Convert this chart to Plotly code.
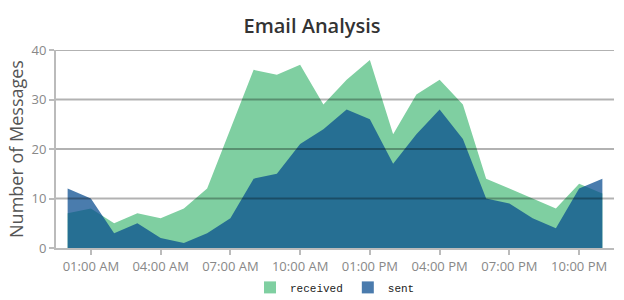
import plotly.graph_objects as go

hours = [f"2024-01-01 {h:02d}:00" for h in range(24)]
received = [7, 8, 5, 7, 6, 8, 12, 24, 36, 35, 37, 29, 34, 38, 23, 31, 34, 29, 14, 12, 10, 8, 13, 11]
sent = [12, 10, 3, 5, 2, 1, 3, 6, 14, 15, 21, 24, 28, 26, 17, 23, 28, 22, 10, 9, 6, 4, 12, 14]
series_names = ["received", "sent"]
legend_colors = ["#7fcfa1", "#4a7bad"]
grid_values = [10, 20, 30, 40]

fig = go.Figure()
fig.add_trace(go.Scatter(
    x=hours, y=received, name="received", mode="lines", fill="tozeroy",
    line=dict(width=0, color="#7fcfa1"), fillcolor="#7fcfa1", showlegend=False,
))
fig.add_trace(go.Scatter(
    x=hours, y=sent, name="sent", mode="lines", fill="tozeroy",
    line=dict(width=0, color="rgba(4,73,142,0.72)"), fillcolor="rgba(4,73,142,0.72)",
    showlegend=False,
))
# legend entries with square swatches
for name, col in zip(series_names, legend_colors):
    fig.add_trace(go.Scatter(
        x=[None], y=[None], name=name, mode="markers",
        marker=dict(symbol="square", size=10, color=col), showlegend=True,
    ))

for g in grid_values:
    fig.add_shape(type="line", xref="paper", yref="y", x0=0, x1=1, y0=g, y1=g,
                  line=dict(color="rgba(0,0,0,0.3)", width=2), layer="above")

fig.update_layout(
    width=624, height=300,
    margin=dict(l=56, r=10, t=50, b=52, autoexpand=False),
    paper_bgcolor="white", plot_bgcolor="white",
    title=dict(text="Email Analysis", x=0.5, xanchor="center", y=0.912, yanchor="middle",
               font=dict(family="Open Sans", size=20, color="#333333", weight=600)),
    showlegend=True,
    legend=dict(orientation="h", x=0.5, xanchor="center", yref="container", y=0.042, yanchor="middle",
                font=dict(family="Courier New, Liberation Mono, monospace", size=11, color="#222"),
                itemwidth=30, traceorder="normal", itemsizing="constant"),
    xaxis=dict(
        type="date", range=["2023-12-31 23:30", "2024-01-01 23:30"],
        tick0="2024-01-01 01:00", dtick=3 * 3600000, tickformat="%I:%M %p",
        showgrid=False, zeroline=False, showline=True, linecolor="#bbbbbb", linewidth=2,
        ticks="outside", ticklen=5, tickcolor="#bbbbbb", tickwidth=2,
        tickfont=dict(family="Open Sans", size=13, color="#888888"),
        automargin=False,
    ),
    yaxis=dict(
        range=[0, 40], tickvals=[0, 10, 20, 30, 40], showgrid=False, zeroline=False,
        showline=True, linecolor="#bbbbbb", linewidth=2,
        ticks="outside", ticklen=5, tickcolor="#bbbbbb", tickwidth=2,
        tickfont=dict(family="Open Sans", size=13, color="#888888"),
        automargin=False,
        title=dict(text="Number of Messages", standoff=3,
                   font=dict(family="Open Sans", size=18, color="#555555")),
    ),
)

fig.write_html("out.html")
